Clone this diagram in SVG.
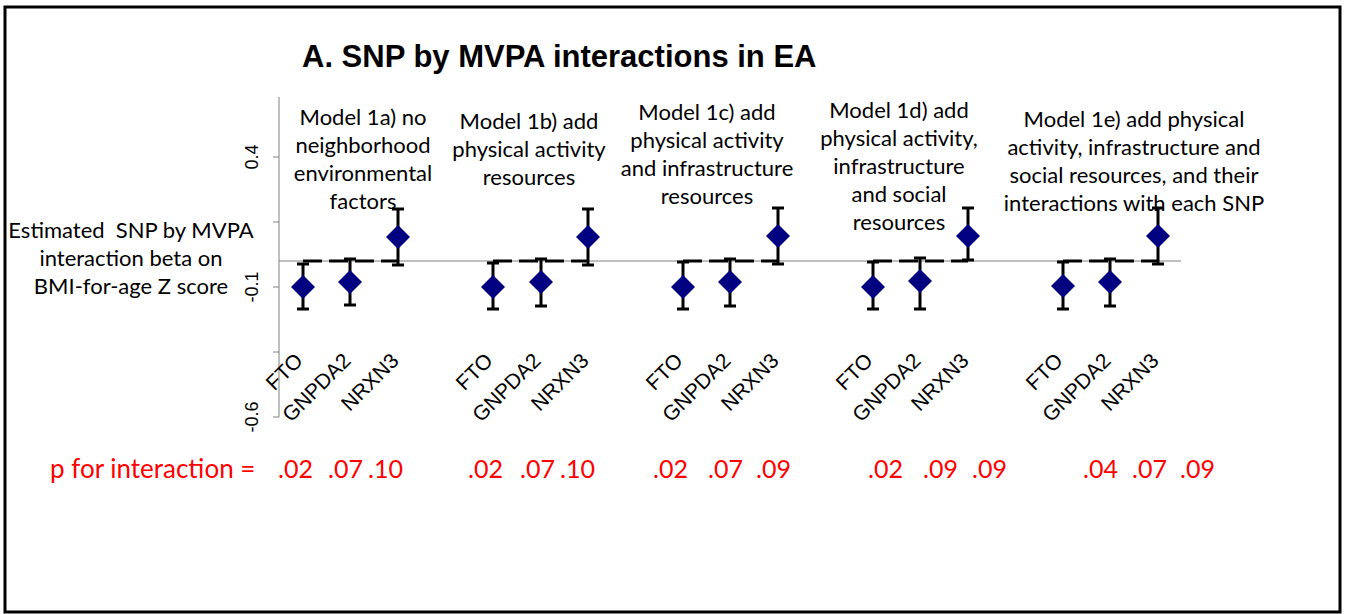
<svg xmlns="http://www.w3.org/2000/svg" xmlns:xlink="http://www.w3.org/1999/xlink" width="1351" height="614" viewBox="0 0 1351 614">
<style>
.title{font-family:"Liberation Sans",Arial,sans-serif;font-weight:bold;font-size:31px;fill:#000}
.lbl{font-family:Lato,"Open Sans",sans-serif;font-size:22px;fill:#000;text-anchor:middle}
.tick{font-family:"Liberation Sans",Arial,sans-serif;font-size:18px;fill:#000;text-anchor:middle}
.cat{font-family:"Liberation Sans",Arial,sans-serif;font-size:21px;fill:#000;text-anchor:end}
.pv{font-family:Lato,"Open Sans",sans-serif;font-size:25px;fill:#ff0000}
.pl{font-size:26px}
.axis{stroke:#808080;stroke-width:1;fill:none}
.eb{stroke:#000;stroke-width:3;fill:none}
.dash{stroke:#000;stroke-width:3;stroke-dasharray:19 7;fill:none}
</style>
<defs>
<path id="dia" d="M0,-12 L12,0 L0,12 L-12,0 Z" fill="#000080"/>
</defs>
<rect x="5" y="7" width="1335" height="605" fill="#fff" stroke="#000" stroke-width="3"/>
<text class="title" x="302" y="67">A. SNP by MVPA interactions in EA</text>

<g id="axes">
<line class="axis" x1="279" y1="97" x2="279" y2="417"/>
<path class="axis" d="M273,157H279M273,222H279M273,287H279M273,352H279M273,417H279"/>
<line class="axis" x1="279" y1="261" x2="1181" y2="261"/>
<text class="tick" transform="translate(258,157) rotate(-90)">0.4</text>
<text class="tick" transform="translate(258,287) rotate(-90)">-0.1</text>
<text class="tick" transform="translate(258,417) rotate(-90)">-0.6</text>
<text class="lbl" xml:space="preserve"><tspan x="131" y="238">Estimated  SNP by MVPA</tspan><tspan x="131" y="266">interaction beta on</tspan><tspan x="131" y="294">BMI-for-age Z score</tspan></text>
</g>

<g id="connectors">
<line class="dash" x1="303" y1="261" x2="398" y2="261"/>
<line class="dash" x1="493" y1="261" x2="588" y2="261"/>
<line class="dash" x1="683" y1="261" x2="778" y2="261"/>
<line class="dash" x1="873" y1="261" x2="968" y2="261"/>
<line class="dash" x1="1063" y1="261" x2="1158" y2="261"/>
</g>

<g id="model1a">
<text class="lbl"><tspan x="363" y="125">Model 1a) no</tspan><tspan x="363" y="153">neighborhood</tspan><tspan x="363" y="181">environmental</tspan><tspan x="363" y="209">factors</tspan></text>
<path class="eb" d="M297,264H309M303,264V309M297,309H309"/>
<path class="eb" d="M344,259H356M350,259V305M344,305H356"/>
<path class="eb" d="M392,209H404M398,209V265M392,265H404"/>
<use xlink:href="#dia" x="303" y="287"/>
<use xlink:href="#dia" x="350" y="282"/>
<use xlink:href="#dia" x="398" y="237"/>
<text class="cat" transform="translate(304,362) rotate(-45)">FTO</text>
<text class="cat" transform="translate(352,362) rotate(-45)">GNPDA2</text>
<text class="cat" transform="translate(400,362) rotate(-45)">NRXN3</text>
<text class="pv pl" x="50" y="478">p for interaction =</text>
<text class="pv" x="278" y="478">.02</text>
<text class="pv" x="328" y="478">.07</text>
<text class="pv" x="368" y="478">.10</text>
</g>

<g id="model1b">
<text class="lbl"><tspan x="529" y="129">Model 1b) add</tspan><tspan x="529" y="157">physical activity</tspan><tspan x="529" y="185">resources</tspan></text>
<path class="eb" d="M487,263H499M493,263V309M487,309H499"/>
<path class="eb" d="M535,259H547M541,259V306M535,306H547"/>
<path class="eb" d="M582,209H594M588,209V265M582,265H594"/>
<use xlink:href="#dia" x="493" y="287"/>
<use xlink:href="#dia" x="541" y="282"/>
<use xlink:href="#dia" x="588" y="237"/>
<text class="cat" transform="translate(494,362) rotate(-45)">FTO</text>
<text class="cat" transform="translate(542,362) rotate(-45)">GNPDA2</text>
<text class="cat" transform="translate(590,362) rotate(-45)">NRXN3</text>
<text class="pv" x="468" y="478">.02</text>
<text class="pv" x="520" y="478">.07</text>
<text class="pv" x="560" y="478">.10</text>
</g>

<g id="model1c">
<text class="lbl"><tspan x="707" y="120">Model 1c) add</tspan><tspan x="707" y="148">physical activity</tspan><tspan x="707" y="176">and infrastructure</tspan><tspan x="707" y="204">resources</tspan></text>
<path class="eb" d="M677,262H689M683,262V309M677,309H689"/>
<path class="eb" d="M724,259H736M730,259V306M724,306H736"/>
<path class="eb" d="M772,208H784M778,208V264M772,264H784"/>
<use xlink:href="#dia" x="683" y="287"/>
<use xlink:href="#dia" x="730" y="282"/>
<use xlink:href="#dia" x="778" y="236"/>
<text class="cat" transform="translate(684,362) rotate(-45)">FTO</text>
<text class="cat" transform="translate(732,362) rotate(-45)">GNPDA2</text>
<text class="cat" transform="translate(780,362) rotate(-45)">NRXN3</text>
<text class="pv" x="653" y="478">.02</text>
<text class="pv" x="708" y="478">.07</text>
<text class="pv" x="756" y="478">.09</text>
</g>

<g id="model1d">
<text class="lbl"><tspan x="899" y="118">Model 1d) add</tspan><tspan x="899" y="146">physical activity,</tspan><tspan x="899" y="174">infrastructure</tspan><tspan x="899" y="202">and social</tspan><tspan x="899" y="230">resources</tspan></text>
<path class="eb" d="M867,262H879M873,262V309M867,309H879"/>
<path class="eb" d="M914,258H926M920,258V309M914,309H926"/>
<path class="eb" d="M962,208H974M968,208V260M962,260H974"/>
<use xlink:href="#dia" x="873" y="287"/>
<use xlink:href="#dia" x="920" y="281"/>
<use xlink:href="#dia" x="968" y="236"/>
<text class="cat" transform="translate(874,362) rotate(-45)">FTO</text>
<text class="cat" transform="translate(922,362) rotate(-45)">GNPDA2</text>
<text class="cat" transform="translate(970,362) rotate(-45)">NRXN3</text>
<text class="pv" x="868" y="478">.02</text>
<text class="pv" x="923" y="478">.09</text>
<text class="pv" x="972" y="478">.09</text>
</g>

<g id="model1e">
<text class="lbl"><tspan x="1134" y="127">Model 1e) add physical</tspan><tspan x="1134" y="155">activity, infrastructure and</tspan><tspan x="1134" y="183">social resources, and their</tspan><tspan x="1134" y="211">interactions with each SNP</tspan></text>
<path class="eb" d="M1057,262H1069M1063,262V309M1057,309H1069"/>
<path class="eb" d="M1104,259H1116M1110,259V306M1104,306H1116"/>
<path class="eb" d="M1152,208H1164M1158,208V264M1152,264H1164"/>
<use xlink:href="#dia" x="1063" y="286"/>
<use xlink:href="#dia" x="1110" y="282"/>
<use xlink:href="#dia" x="1158" y="236"/>
<text class="cat" transform="translate(1064,362) rotate(-45)">FTO</text>
<text class="cat" transform="translate(1112,362) rotate(-45)">GNPDA2</text>
<text class="cat" transform="translate(1160,362) rotate(-45)">NRXN3</text>
<text class="pv" x="1083" y="478">.04</text>
<text class="pv" x="1132" y="478">.07</text>
<text class="pv" x="1180" y="478">.09</text>
</g>
</svg>
